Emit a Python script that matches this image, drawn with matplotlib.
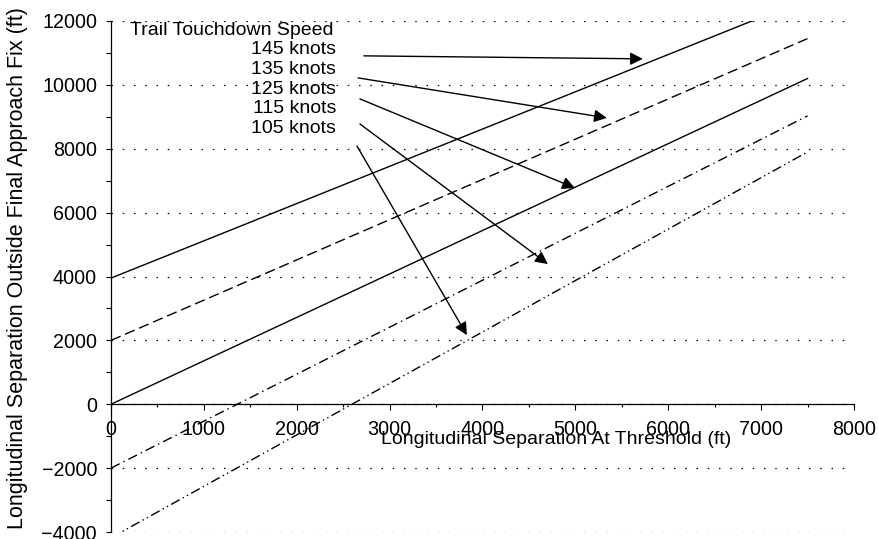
import matplotlib
matplotlib.use("Agg")
import matplotlib.pyplot as plt
from matplotlib.ticker import MultipleLocator

plt.rcParams['font.family'] = ['Liberation Sans', 'DejaVu Sans']

# Data
speeds = ["145 knots", "135 knots", "125 knots", "115 knots", "105 knots"]
x_145 = [0, 6900]
y_145 = [3950, 12000]
x_135 = [0, 7500]
y_135 = [2000, 11450]
x_125 = [0, 7500]
y_125 = [0, 10200]
x_115 = [0, 7500]
y_115 = [-2000, 9030]
x_105 = [0, 7500]
y_105 = [-4180, 7900]

# arrow start/end (data coords) for each speed label
arrow_start = [(2723, 10909), (2659, 10219), (2680, 9561), (2680, 8777), (2648, 8088)]
arrow_end = [(5727, 10815), (5339, 8966), (4995, 6771), (4704, 4389), (3832, 2163)]
label_y = [11097, 10470, 9843, 9248, 8621]

fig = plt.figure(figsize=(8.79, 5.39), dpi=100)
ax = fig.add_axes([111/879, 7/539, (854-111)/879, (532-21)/539])

lw = 1.0
ax.plot(x_145, y_145, color='black', lw=lw, linestyle='-')
ax.plot(x_135, y_135, color='black', lw=lw, linestyle=(0, (7.5, 3.5)))
ax.plot(x_125, y_125, color='black', lw=lw, linestyle='-')
ax.plot(x_115, y_115, color='black', lw=lw, linestyle=(0, (7, 3, 1, 3)))
ax.plot(x_105, y_105, color='black', lw=lw, linestyle=(0, (7, 2.5, 1, 2.5, 1, 2.5)))

ax.set_xlim(0, 8000)
ax.set_ylim(-4000, 12000)

ax.spines['top'].set_visible(False)
ax.spines['right'].set_visible(False)
ax.spines['bottom'].set_position(('data', 0))
ax.spines['bottom'].set_linewidth(0.9)
ax.spines['left'].set_linewidth(0.9)

ax.xaxis.set_major_locator(MultipleLocator(1000))
ax.xaxis.set_minor_locator(MultipleLocator(500))
ax.yaxis.set_major_locator(MultipleLocator(2000))
ax.yaxis.set_minor_locator(MultipleLocator(1000))

ax.tick_params(axis='x', which='major', direction='out', length=4, width=0.8,
               labelsize=14.2, pad=7)
ax.tick_params(axis='x', which='minor', direction='out', length=2.5, width=0.8)
ax.tick_params(axis='y', which='major', direction='out', length=3.5, width=0.8,
               labelsize=14.2, pad=6.5)
ax.tick_params(axis='y', which='minor', direction='out', length=3.5, width=0.8)

ax.grid(axis='y', which='major', color='black', linestyle=(0, (1.2, 7.8)), lw=0.9)
ax.set_axisbelow(True)

ax.text(4790, -1230, "Longitudinal Separation At Threshold (ft)", ha='center',
        va='baseline', fontsize=14)
ax.text(-1012, 4263, "Longitudinal Separation Outside Final Approach Fix (ft)",
        rotation=90, ha='center', va='center', fontsize=15.5, clip_on=False)

ax.text(205, 11690, "Trail Touchdown Speed", ha='left', va='center', fontsize=14)
for lab, ly, s, e in zip(speeds, label_y, arrow_start, arrow_end):
    ax.text(2422, ly, lab, ha='right', va='center', fontsize=14)
    ax.annotate("", xy=e, xytext=s,
                arrowprops=dict(arrowstyle='-|>', color='black', lw=1.0,
                                mutation_scale=19, shrinkA=0, shrinkB=0))

fig.savefig("out.png", dpi=100)
